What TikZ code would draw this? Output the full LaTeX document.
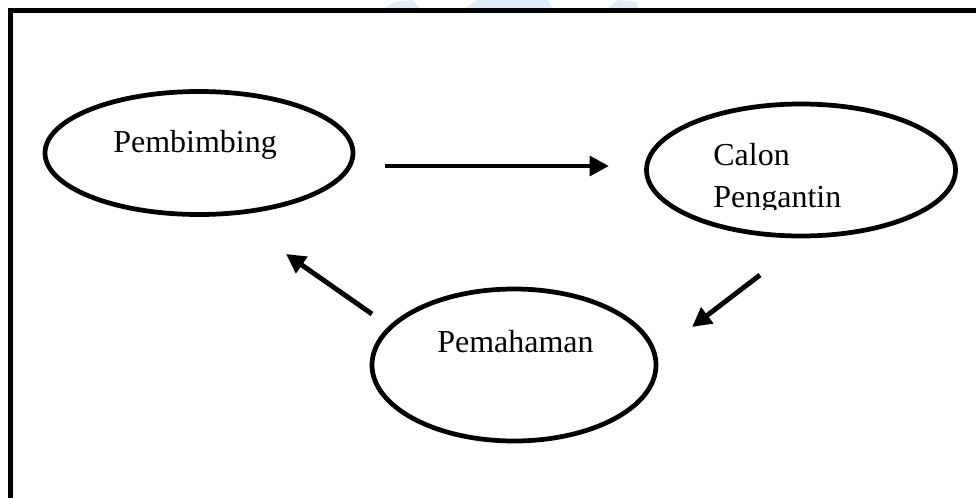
\documentclass[tikz,border=0pt]{standalone}
\usepackage{fontspec}
\setmainfont{Liberation Serif}
\usetikzlibrary{shapes.geometric,arrows.meta}
\definecolor{wm}{RGB}{222,237,248}
\tikzset{
  oval/.style={draw=black, line width=2.7pt, ellipse, inner sep=0pt},
  lbl/.style={anchor=base west, inner sep=0pt, font=\fontsize{18.2}{22}\selectfont},
  flow/.style={line width=2.8pt, -{Triangle[length=11pt,width=11pt]}},
}
\begin{document}
\begin{tikzpicture}[x=0.02cm,y=-0.02cm]
\useasboundingbox (0,0) rectangle (976,497);
% faint watermark above frame
\fill[wm] (385,8) -- (395,2) -- (412,0) -- (420,8) -- cycle;
\fill[wm] (465,8) -- (478,0) -- (548,0) -- (552,8) -- cycle;
\fill[wm] (608,8) -- (618,0) -- (636,2) -- (638,8) -- cycle;
% frame
\draw[line width=2.85pt] (10.5,500) -- (10.5,10.5) -- (980,10.5);
% ellipses
\node[oval, minimum width=308*0.02cm, minimum height=123*0.02cm] (pb) at (199,153) {};
\node[oval, minimum width=309*0.02cm, minimum height=132*0.02cm] (cp) at (801,170) {};
\node[oval, minimum width=284*0.02cm, minimum height=152*0.02cm] (pm) at (514,365) {};
% labels
\node[lbl] (tpb) at (113,152) {Pembimbing};
\node[lbl] (tpm) at (437,352) {Pemahaman};
\begin{scope}
\clip (700,130) rectangle (900,209);
\node[lbl] (tcp1) at (713,165) {Calon};
\node[lbl] (tcp2) at (713,207) {Pengantin};
\end{scope}
% connector end points
\coordinate (a1) at (385,166);
\coordinate (a2) at (609,166);
\coordinate (b1) at (760,275);
\coordinate (b2) at (692,327);
\coordinate (c1) at (372,314);
\coordinate (c2) at (286,254);
\draw[flow] (a1) -- (a2);
\draw[flow] (b1) -- (b2);
\draw[flow] (c1) -- (c2);
\end{tikzpicture}
\end{document}
